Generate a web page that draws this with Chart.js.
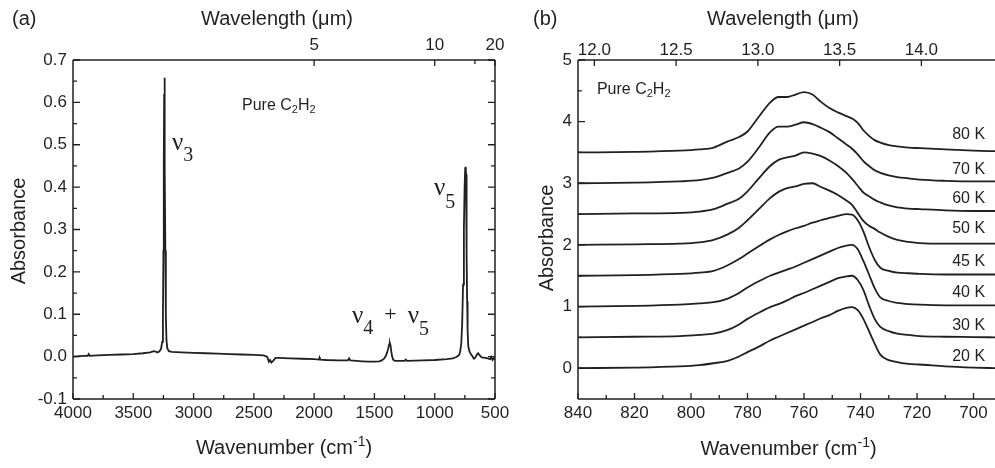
<!DOCTYPE html>
<html>
<head>
<meta charset="utf-8">
<script src="https://cdn.jsdelivr.net/npm/chart.js@4.4.0/dist/chart.umd.min.js"></script>
<style>
  html, body { margin: 0; padding: 0; background: #fff; }
  #wrap { position: relative; width: 995px; height: 468px; }
  canvas { position: absolute; left: 0; top: 0; }
</style>
</head>
<body>
<div id="wrap">
  <canvas id="js--chart-a" width="995" height="468"></canvas>
  <canvas id="js--chart-b" width="995" height="468"></canvas>
</div>
<script>
// ---- panel (a): full spectrum ----
const aWavenumber = [4000, 3950, 3900, 3878, 3870, 3862, 3800, 3700, 3600, 3500, 3420, 3360, 3330, 3315, 3300, 3285, 3270, 3260, 3254, 3250, 3247, 3244, 3242, 3240, 3237, 3234, 3230, 3225, 3218, 3205, 3180, 3100, 3000, 2900, 2800, 2700, 2600, 2500, 2420, 2390, 2375, 2365, 2355, 2340, 2320, 2300, 2200, 2100, 2000, 1960, 1955, 1948, 1900, 1800, 1720, 1710, 1700, 1650, 1600, 1550, 1500, 1460, 1440, 1420, 1405, 1395, 1385, 1378, 1372, 1366, 1360, 1353, 1345, 1330, 1250, 1240, 1230, 1100, 1000, 900, 850, 820, 800, 790, 780, 772, 765, 758, 752, 747, 743, 740, 737, 734, 731, 727, 722, 712, 700, 690, 675, 665, 650, 640, 630, 610, 580, 560, 540, 530, 520, 510, 500];
const aAbsorbance = [0.000, 0.001, 0.002, 0.002, 0.006, 0.002, 0.003, 0.004, 0.005, 0.006, 0.008, 0.010, 0.013, 0.012, 0.010, 0.012, 0.018, 0.035, 0.10, 0.25, 0.45, 0.62, 0.658, 0.62, 0.45, 0.25, 0.10, 0.04, 0.020, 0.013, 0.011, 0.010, 0.009, 0.008, 0.007, 0.006, 0.005, 0.004, 0.003, 0.000, -0.012, -0.008, -0.014, -0.010, -0.003, -0.003, -0.004, -0.005, -0.006, -0.007, -0.002, -0.007, -0.008, -0.009, -0.009, -0.004, -0.009, -0.010, -0.011, -0.012, -0.012, -0.011, -0.009, -0.005, 0.002, 0.010, 0.020, 0.029, 0.032, 0.026, 0.012, 0.000, -0.007, -0.010, -0.010, -0.007, -0.010, -0.009, -0.008, -0.006, -0.004, -0.001, 0.003, 0.010, 0.030, 0.08, 0.17, 0.30, 0.40, 0.445, 0.448, 0.43, 0.36, 0.24, 0.13, 0.06, 0.025, 0.012, 0.006, 0.002, -0.005, -0.003, 0.005, 0.008, 0.004, -0.002, -0.003, -0.004, -0.006, -0.001, -0.008, -0.004, -0.006];

const aWnTicks = [4000, 3500, 3000, 2500, 2000, 1500, 1000, 500];
const aWnMinor = [3750, 3250, 2750, 2250, 1750, 1250, 750];
const aWlTicks = [5, 10, 20];   // micrometres
const aWlMinor = [15];
const aAbsTicks = [-0.1, 0, 0.1, 0.2, 0.3, 0.4, 0.5, 0.6, 0.7];
const aAbsMinor = [-0.05, 0.05, 0.15, 0.25, 0.35, 0.45, 0.55, 0.65];

// ---- panel (b): nu5 band vs temperature ----
const bWavenumber = [840, 820, 804, 797, 792, 787, 783, 780, 776, 772, 769, 766, 763, 760, 757, 754, 751, 748, 745, 743, 741, 739, 737, 735, 733, 730, 727, 723, 719, 710, 700, 692];
const abs20K = [0.00, 0.01, 0.03, 0.05, 0.08, 0.12, 0.19, 0.26, 0.35, 0.45, 0.51, 0.57, 0.63, 0.69, 0.75, 0.81, 0.86, 0.93, 0.98, 0.99, 0.94, 0.80, 0.60, 0.40, 0.22, 0.13, 0.10, 0.07, 0.06, 0.03, 0.01, 0.00];
const abs30K = [0.50, 0.51, 0.52, 0.54, 0.56, 0.62, 0.71, 0.80, 0.90, 0.99, 1.04, 1.10, 1.17, 1.22, 1.28, 1.34, 1.40, 1.46, 1.49, 1.50, 1.43, 1.27, 1.02, 0.80, 0.67, 0.60, 0.56, 0.54, 0.52, 0.51, 0.505, 0.50];
const abs40K = [1.00, 1.01, 1.03, 1.05, 1.07, 1.13, 1.22, 1.31, 1.41, 1.50, 1.55, 1.60, 1.65, 1.71, 1.77, 1.83, 1.89, 1.95, 1.99, 2.00, 1.93, 1.74, 1.52, 1.30, 1.15, 1.09, 1.06, 1.04, 1.03, 1.02, 1.02, 1.02];
const abs45K = [1.50, 1.51, 1.53, 1.55, 1.58, 1.67, 1.77, 1.86, 1.98, 2.09, 2.16, 2.22, 2.27, 2.31, 2.36, 2.40, 2.44, 2.47, 2.50, 2.49, 2.40, 2.22, 1.97, 1.76, 1.63, 1.58, 1.55, 1.54, 1.53, 1.52, 1.52, 1.52];
const abs50K = [2.00, 2.01, 2.02, 2.04, 2.08, 2.17, 2.28, 2.40, 2.58, 2.76, 2.86, 2.92, 2.95, 2.99, 3.00, 2.94, 2.88, 2.81, 2.72, 2.65, 2.52, 2.39, 2.31, 2.26, 2.20, 2.13, 2.08, 2.05, 2.03, 2.02, 2.02, 2.02];
const abs60K = [2.50, 2.51, 2.52, 2.54, 2.58, 2.67, 2.75, 2.87, 3.08, 3.28, 3.38, 3.42, 3.45, 3.50, 3.48, 3.44, 3.37, 3.28, 3.17, 3.07, 2.96, 2.85, 2.79, 2.73, 2.69, 2.64, 2.61, 2.59, 2.58, 2.56, 2.55, 2.55];
const abs70K = [3.00, 3.01, 3.03, 3.05, 3.09, 3.17, 3.24, 3.35, 3.58, 3.83, 3.92, 3.92, 3.95, 3.99, 3.96, 3.90, 3.83, 3.73, 3.63, 3.56, 3.47, 3.36, 3.28, 3.21, 3.17, 3.13, 3.10, 3.08, 3.06, 3.04, 3.03, 3.03];
const abs80K = [3.50, 3.51, 3.53, 3.55, 3.58, 3.68, 3.75, 3.84, 4.08, 4.31, 4.40, 4.40, 4.44, 4.48, 4.44, 4.32, 4.22, 4.15, 4.09, 4.05, 3.98, 3.86, 3.77, 3.70, 3.66, 3.62, 3.60, 3.58, 3.57, 3.55, 3.53, 3.52];
const bSeries = [abs20K, abs30K, abs40K, abs45K, abs50K, abs60K, abs70K, abs80K];
const bTemps = ["20 K", "30 K", "40 K", "45 K", "50 K", "60 K", "70 K", "80 K"];
const bTempLabelAt = [0.12, 0.62, 1.16, 1.66, 2.19, 2.68, 3.15, 3.72];

const bWnTicks = [840, 820, 800, 780, 760, 740, 720, 700];
const bWnMinor = [830, 810, 790, 770, 750, 730, 710];
const bWlTicks = [12.0, 12.5, 13.0, 13.5, 14.0];
const bAbsTicks = [0, 1, 2, 3, 4, 5];
const bAbsMinor = [0.5, 1.5, 2.5, 3.5, 4.5];

const ink = "#231f20";
const sans = "'Liberation Sans', Arial, sans-serif";
const serif = "'Liberation Serif', 'Times New Roman', serif";
const tickFont = { family: sans, size: 17 };

function fixBox(w, h) {
    return function (scale) {
        if (w !== null) scale.width = w;
        if (h !== null) scale.height = h;
        scale.paddingLeft = 0;
        scale.paddingRight = 0;
        scale.paddingTop = 0;
        scale.paddingBottom = 0;
    };
}

function setTicks(list) {
    return function (scale) {
        scale.ticks = list.map(function (v) { return { value: v }; });
    };
}

function drawParts(ctx, parts, x, y, align) {
    let total = 0;
    parts.forEach(function (p) { ctx.font = p.font; total += ctx.measureText(p.text).width; });
    let cx = x;
    if (align === "center") cx = x - total / 2;
    if (align === "right") cx = x - total;
    parts.forEach(function (p) {
        ctx.font = p.font;
        ctx.fillText(p.text, cx, y + (p.dy || 0));
        cx += ctx.measureText(p.text).width;
    });
}

function f(size, fam) { return size + "px " + fam; }

const nu = "\u03bd";
function pureLabel() {
    return [
        { text: "Pure C", font: f(16, sans) },
        { text: "2", font: f(11, sans), dy: 3 },
        { text: "H", font: f(16, sans) },
        { text: "2", font: f(11, sans), dy: 3 }
    ];
}
function wavenumberTitle() {
    return [
        { text: "Wavenumber (cm", font: f(20, sans) },
        { text: "-1", font: f(14, sans), dy: -8 },
        { text: ")", font: f(20, sans) }
    ];
}

// frame, inward ticks and text; cfg is kept in a closure (not in chart options)
function makeFrame(cfg) {
    return {
        id: "frame",
        afterDatasetsDraw(chart) {
            const ctx = chart.ctx;
            const a = chart.chartArea;
            ctx.save();
            ctx.strokeStyle = ink;
            ctx.lineWidth = 1.5;
            ctx.beginPath();
            if (cfg.sides.includes("left")) { ctx.moveTo(a.left, a.top); ctx.lineTo(a.left, a.bottom); }
            if (cfg.sides.includes("right")) { ctx.moveTo(a.right, a.top); ctx.lineTo(a.right, a.bottom); }
            if (cfg.sides.includes("top")) { ctx.moveTo(a.left, a.top); ctx.lineTo(a.right, a.top); }
            if (cfg.sides.includes("bottom")) { ctx.moveTo(a.left, a.bottom); ctx.lineTo(a.right, a.bottom); }
            ctx.stroke();

            ctx.lineWidth = 1.3;
            ctx.beginPath();
            cfg.marks.forEach(function (m) {
                const s = chart.scales[m.axis];
                m.values.forEach(function (v) {
                    const p = s.getPixelForValue(m.toAxis ? m.toAxis(v) : v);
                    if (m.side === "bottom") { ctx.moveTo(p, a.bottom); ctx.lineTo(p, a.bottom - m.len); }
                    if (m.side === "top") { ctx.moveTo(p, a.top); ctx.lineTo(p, a.top + m.len); }
                    if (m.side === "left") { ctx.moveTo(a.left, p); ctx.lineTo(a.left + m.len, p); }
                    if (m.side === "right") { ctx.moveTo(a.right, p); ctx.lineTo(a.right - m.len, p); }
                });
            });
            ctx.stroke();

            ctx.fillStyle = ink;
            ctx.textBaseline = "alphabetic";
            ctx.textAlign = "left";
            cfg.texts.forEach(function (t) {
                const pos = t.at(chart);
                if (t.rotate) {
                    ctx.save();
                    ctx.translate(pos[0], pos[1]);
                    ctx.rotate(-Math.PI / 2);
                    drawParts(ctx, t.parts, 0, 0, "center");
                    ctx.restore();
                } else {
                    drawParts(ctx, t.parts, pos[0], pos[1], t.align || "left");
                }
            });
            ctx.restore();
        }
    };
}

function dataAt(xv, yv) {
    return function (chart) {
        return [chart.scales.x.getPixelForValue(xv), chart.scales.y.getPixelForValue(yv)];
    };
}
function micronToWn(v) { return 10000 / v; }

Chart.defaults.animation = false;

// ---------- chart (a) ----------
const frameA = makeFrame({
    sides: ["left", "right", "top", "bottom"],
    marks: [
        { axis: "x", side: "bottom", values: aWnTicks, len: 6 },
        { axis: "x", side: "bottom", values: aWnMinor, len: 4 },
        { axis: "x", side: "top", values: aWlTicks, len: 6, toAxis: micronToWn },
        { axis: "x", side: "top", values: aWlMinor, len: 4, toAxis: micronToWn },
        { axis: "y", side: "left", values: aAbsTicks, len: 7 },
        { axis: "y", side: "left", values: aAbsMinor, len: 4 },
        { axis: "y", side: "right", values: aAbsTicks, len: 7 },
        { axis: "y", side: "right", values: aAbsMinor, len: 4 }
    ],
    texts: [
        { parts: [{ text: "(a)", font: f(20, sans) }], at: function () { return [12, 25]; } },
        { parts: [{ text: "Wavelength (\u03bcm)", font: f(20, sans) }], align: "center",
          at: function (c) { return [c.chartArea.left + 204, 25]; } },
        { parts: wavenumberTitle(), align: "center",
          at: function (c) { return [c.chartArea.left + 211, 454]; } },
        { parts: [{ text: "Absorbance", font: f(20, sans) }], rotate: true,
          at: function () { return [25, 231]; } },
        { parts: pureLabel(), at: dataAt(2598, 0.582) },
        { parts: [{ text: nu, font: f(25, serif) }, { text: "3", font: f(20, serif), dy: 11 }],
          at: dataAt(3179, 0.4875) },
        { parts: [{ text: nu, font: f(25, serif) }, { text: "5", font: f(20, serif), dy: 13 }],
          at: dataAt(1006, 0.381) },
        { parts: [
            { text: nu, font: f(25, serif) }, { text: "4", font: f(20, serif), dy: 11 },
            { text: "\u2002+\u2002", font: f(22, serif), dy: -2 },
            { text: nu, font: f(25, serif) }, { text: "5", font: f(20, serif), dy: 12 }
          ], at: dataAt(1686, 0.079) }
    ]
});

new Chart(document.getElementById("js--chart-a"), {
    type: "line",
    data: {
        datasets: [{
            data: aWavenumber.map(function (w, i) { return { x: w, y: aAbsorbance[i] }; }),
            borderColor: ink,
            borderWidth: 1.8,
            pointRadius: 0,
            tension: 0
        }]
    },
    options: {
        responsive: false,
        layout: { padding: { left: 0, right: 500, top: 0, bottom: 0 } },
        plugins: { legend: { display: false }, tooltip: { enabled: false } },
        scales: {
            x: {
                type: "linear", position: "bottom", min: 500, max: 4000, reverse: true,
                grid: { display: false, drawTicks: false }, border: { display: false },
                afterBuildTicks: setTicks(aWnTicks), afterFit: fixBox(null, 69),
                ticks: { font: tickFont, color: ink, padding: 4, maxRotation: 0, autoSkip: false,
                         callback: function (v) { return String(v); } }
            },
            x2: {
                type: "linear", position: "top", min: 500, max: 4000, reverse: true,
                grid: { display: false, drawTicks: false }, border: { display: false },
                afterBuildTicks: setTicks(aWlTicks.map(micronToWn)),
                afterFit: fixBox(null, 60),
                ticks: { font: tickFont, color: ink, padding: 4, maxRotation: 0, autoSkip: false,
                         callback: function (v) { return String(Math.round(10000 / v)); } }
            },
            y: {
                type: "linear", min: -0.1, max: 0.7,
                grid: { display: false, drawTicks: false }, border: { display: false },
                afterBuildTicks: setTicks(aAbsTicks), afterFit: fixBox(73, null),
                ticks: { font: tickFont, color: ink, padding: 6, autoSkip: false,
                         callback: function (v) { return v.toFixed(1); } }
            }
        }
    },
    plugins: [frameA]
});

// ---------- chart (b) ----------
const bDatasets = bSeries.map(function (vals) {
    return {
        data: bWavenumber.map(function (w, i) { return { x: w, y: vals[i] }; }),
        borderColor: ink,
        borderWidth: 1.8,
        pointRadius: 0,
        cubicInterpolationMode: "monotone"
    };
});

const bTexts = [
    { parts: [{ text: "(b)", font: f(20, sans) }], at: function () { return [533, 25]; } },
    { parts: [{ text: "Wavelength (\u03bcm)", font: f(20, sans) }], align: "center",
      at: function (c) { return [c.chartArea.left + 205, 25]; } },
    { parts: wavenumberTitle(), align: "center",
      at: function (c) { return [c.chartArea.left + 210.5, 455]; } },
    { parts: [{ text: "Absorbance", font: f(20, sans) }], rotate: true,
      at: function () { return [553, 238]; } },
    { parts: pureLabel(), at: dataAt(833.3, 4.45) }
];
bTemps.forEach(function (t, i) {
    bTexts.push({ parts: [{ text: t, font: f(16, sans) }], align: "right", at: dataAt(695.9, bTempLabelAt[i]) });
});

const frameB = makeFrame({
    sides: ["left", "top", "bottom"],
    marks: [
        { axis: "x", side: "bottom", values: bWnTicks, len: 6 },
        { axis: "x", side: "bottom", values: bWnMinor, len: 4 },
        { axis: "x2", side: "top", values: bWlTicks, len: 6 },
        { axis: "y", side: "left", values: bAbsTicks, len: 7 },
        { axis: "y", side: "left", values: bAbsMinor, len: 4 }
    ],
    texts: bTexts
});

new Chart(document.getElementById("js--chart-b"), {
    type: "line",
    data: { datasets: bDatasets },
    options: {
        responsive: false,
        layout: { padding: { left: 500, right: 0, top: 0, bottom: 0 } },
        plugins: { legend: { display: false }, tooltip: { enabled: false } },
        scales: {
            x: {
                type: "linear", position: "bottom", min: 692.4, max: 840, reverse: true,
                grid: { display: false, drawTicks: false }, border: { display: false },
                afterBuildTicks: setTicks(bWnTicks), afterFit: fixBox(null, 69),
                ticks: { font: tickFont, color: ink, padding: 4, maxRotation: 0, autoSkip: false,
                         callback: function (v) { return String(v); } }
            },
            x2: {
                type: "linear", position: "top", min: 11.9, max: 14.45,
                grid: { display: false, drawTicks: false }, border: { display: false },
                afterBuildTicks: setTicks(bWlTicks), afterFit: fixBox(null, 60),
                ticks: { font: tickFont, color: ink, padding: -1, maxRotation: 0, autoSkip: false,
                         callback: function (v) { return v.toFixed(1); } }
            },
            y: {
                type: "linear", min: -0.5, max: 5,
                grid: { display: false, drawTicks: false }, border: { display: false },
                afterBuildTicks: setTicks(bAbsTicks), afterFit: fixBox(78, null),
                ticks: { font: tickFont, color: ink, padding: 6, autoSkip: false,
                         callback: function (v) { return String(v); } }
            }
        }
    },
    plugins: [frameB]
});
</script>
</body>
</html>
